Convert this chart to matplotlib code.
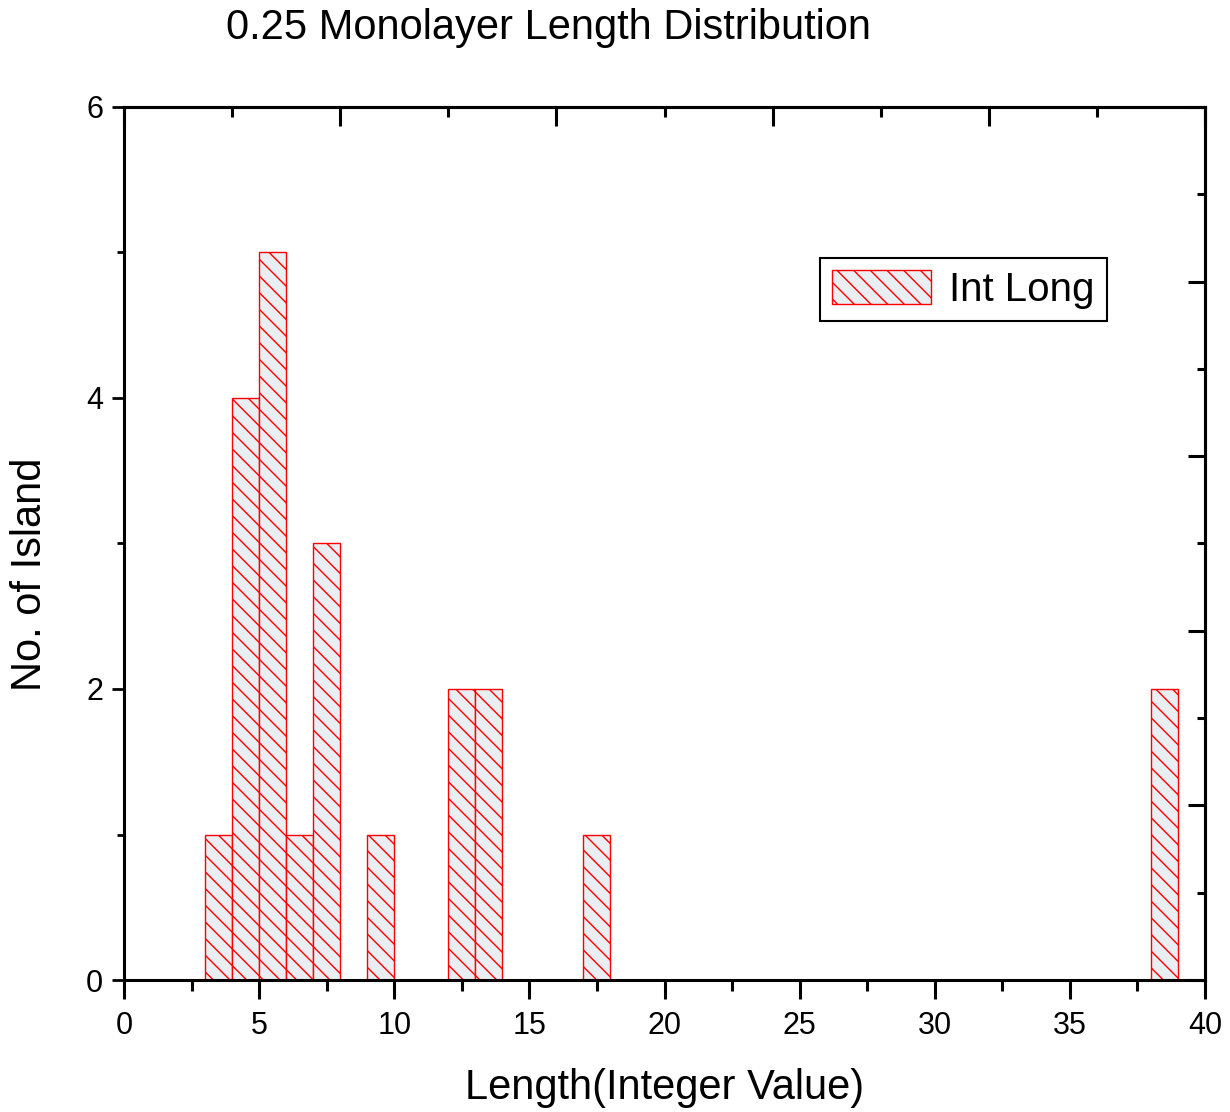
import numpy as np
import matplotlib
matplotlib.use("Agg")
import matplotlib.pyplot as plt
from matplotlib.ticker import MultipleLocator

plt.rcParams['font.family'] = ['Liberation Sans', 'DejaVu Sans']
plt.rcParams['hatch.linewidth'] = 1.0

# histogram bins (left edge, width 1) and counts
bin_left = [3, 4, 5, 6, 7, 9, 12, 13, 17, 38]
counts = [1, 4, 5, 1, 3, 1, 2, 2, 1, 2]
series_name = "Int Long"
title = "0.25 Monolayer Length Distribution"
xlabel = "Length(Integer Value)"
ylabel = "No. of Island"

fig = plt.figure(figsize=(12.3, 11.12), dpi=100)
ax = fig.add_axes([0.1008, 0.1187, 0.8789, 0.7851])

ax.bar(bin_left, counts, width=1, align='edge', color='#e8eef2',
       edgecolor='red', hatch='\\\\', linewidth=1.0, label=series_name)

ax.set_xlim(0, 40)
ax.set_ylim(0, 6)
ax.xaxis.set_major_locator(MultipleLocator(5))
ax.xaxis.set_minor_locator(MultipleLocator(2.5))
ax.yaxis.set_major_locator(MultipleLocator(2))
ax.yaxis.set_minor_locator(MultipleLocator(1))

for s in ax.spines.values():
    s.set_linewidth(2.2)

ax.tick_params(axis='x', which='major', direction='out', length=14, width=2.2,
               labelsize=22, pad=8)
ax.tick_params(axis='x', which='minor', direction='out', length=8, width=2.2)
ax.tick_params(axis='y', which='major', direction='out', length=9, width=2.0,
               labelsize=22, pad=6)
ax.tick_params(axis='y', which='minor', direction='out', length=5, width=2.0)

# top and right axes: unlabeled inward ticks on a 0..1 scale
top = ax.secondary_xaxis('top', functions=(lambda x: x / 40, lambda t: t * 40))
top.xaxis.set_major_locator(MultipleLocator(0.2))
top.xaxis.set_minor_locator(MultipleLocator(0.1))
top.tick_params(which='major', direction='in', length=14, width=2.2, labeltop=False)
top.tick_params(which='minor', direction='in', length=7, width=2.2)
top.spines['top'].set_linewidth(2.2)

right = ax.secondary_yaxis('right', functions=(lambda y: y / 6, lambda t: t * 6))
right.yaxis.set_major_locator(MultipleLocator(0.2))
right.yaxis.set_minor_locator(MultipleLocator(0.1))
right.tick_params(which='major', direction='in', length=12, width=2.2, labelright=False)
right.tick_params(which='minor', direction='in', length=6, width=2.2)
right.spines['right'].set_linewidth(2.2)

ax.set_xlabel(xlabel, fontsize=30, labelpad=20)
ax.set_ylabel(ylabel, fontsize=30)
ax.yaxis.set_label_coords(-0.068, 0.465)

fig.text(226 / 1230, 1 - 28 / 1112, title, fontsize=30, ha='left', va='center')

leg = ax.legend(loc='upper right', bbox_to_anchor=(0.909, 0.827), borderaxespad=0,
                fontsize=29, fancybox=False, edgecolor='black', framealpha=1,
                handlelength=2.45, handleheight=0.9, borderpad=0.3, handletextpad=0.45)
leg.get_frame().set_linewidth(1.5)

fig.savefig("out.png", dpi=100)
